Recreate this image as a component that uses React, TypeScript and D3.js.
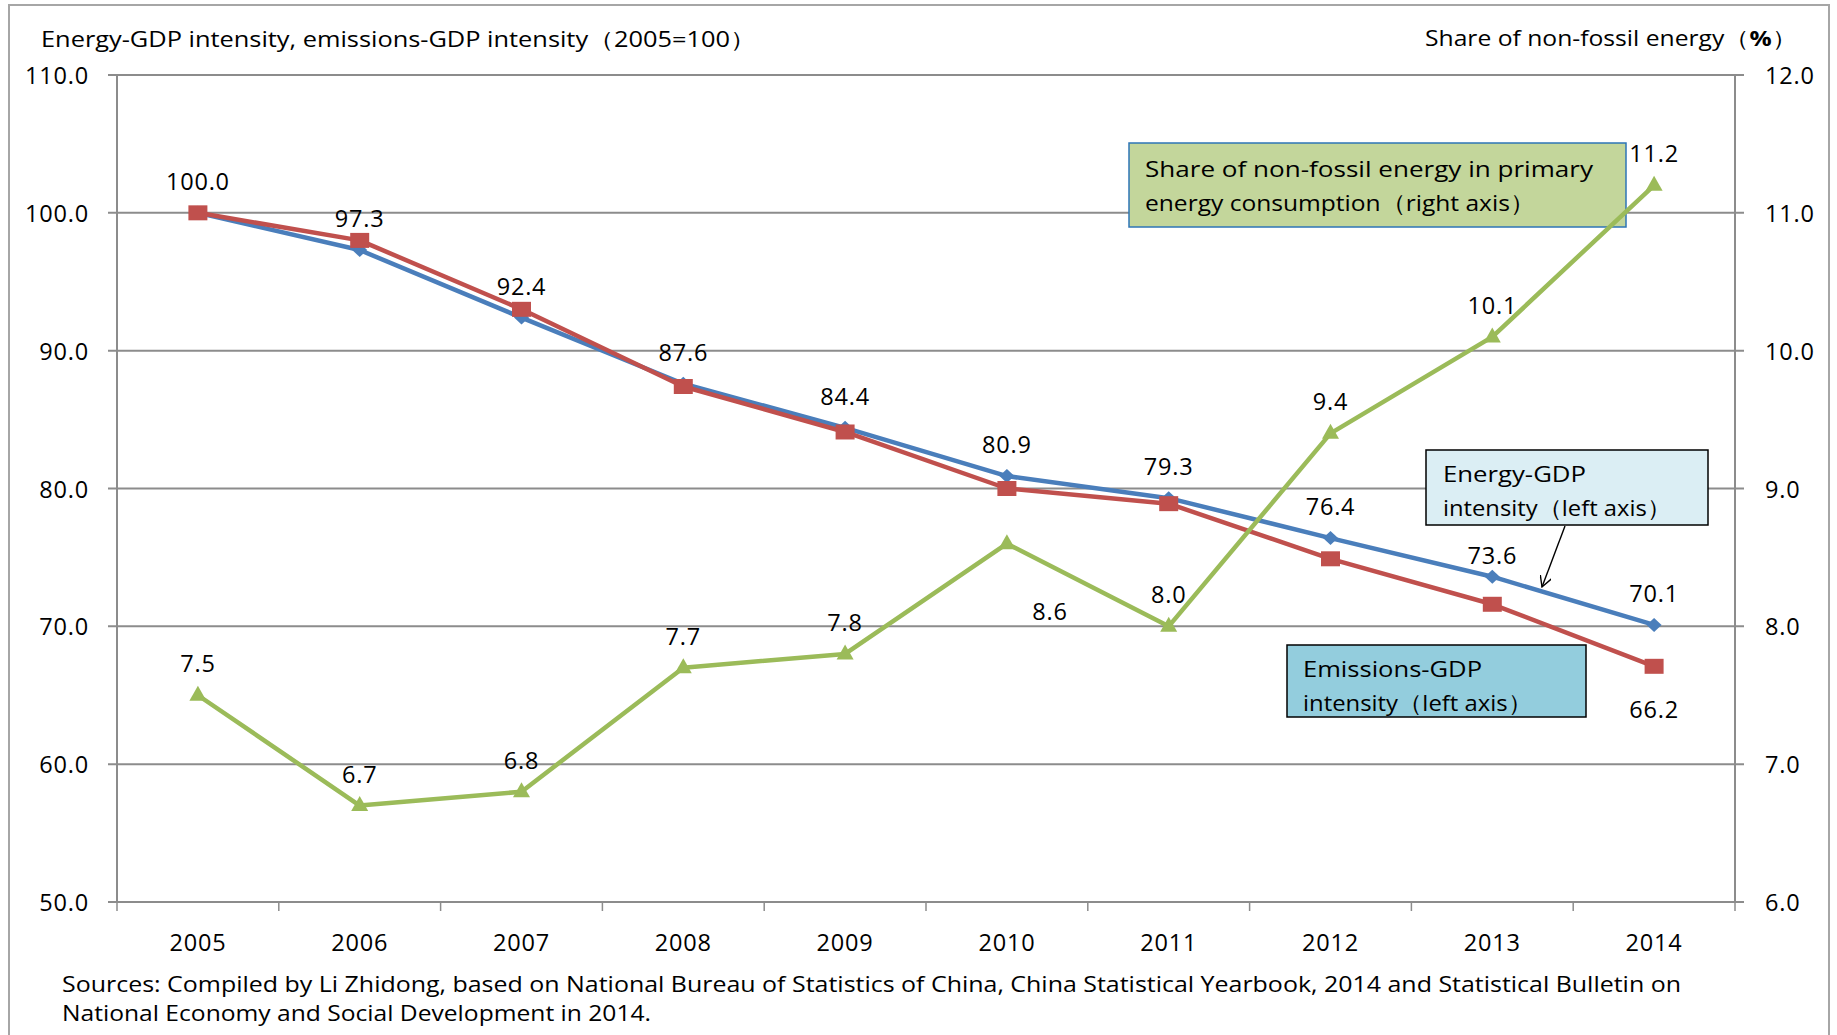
import React from "react";
import * as d3 from "d3";

const years = ["2005", "2006", "2007", "2008", "2009", "2010", "2011", "2012", "2013", "2014"];
const energyGdp = [100.0, 97.3, 92.4, 87.6, 84.4, 80.9, 79.3, 76.4, 73.6, 70.1];
const emissionsGdp = [100.0, 98.0, 93.0, 87.4, 84.1, 80.0, 78.9, 74.9, 71.6, 67.1];
const emissionsLabels = ["", "", "", "", "", "", "", "", "", "66.2"];
const nonFossilShare = [7.5, 6.7, 6.8, 7.7, 7.8, 8.6, 8.0, 9.4, 10.1, 11.2];
const leftTicks = [50, 60, 70, 80, 90, 100, 110];
const rightTicks = [6, 7, 8, 9, 10, 11, 12];

const FONT = "'Open Sans', 'Noto Sans', sans-serif";
const BLUE = "#4a7ebb";
const RED = "#c0504d";
const GREEN = "#9bbb59";
const GRID = "#8c8c8c";

export default function App() {
  const left = 117, right = 1735, top = 75, bottom = 902;
  const x = d3.scaleBand<string>().domain(years).range([left, right]);
  const cx = (y: string) => (x(y) as number) + x.bandwidth() / 2;
  const yL = d3.scaleLinear().domain([50, 110]).range([bottom, top]);
  const yR = d3.scaleLinear().domain([6, 12]).range([bottom, top]);
  const f1 = d3.format(".1f");

  const lineL = d3.line<number>().x((_, i) => cx(years[i])).y((d) => yL(d));
  const lineR = d3.line<number>().x((_, i) => cx(years[i])).y((d) => yR(d));

  const diamond = "M0,-7 L7.5,0 L0,7 L-7.5,0 Z";
  const square = "M-9.5,-7.5 H9.5 V7.5 H-9.5 Z";
  const triangle = "M0,-9.5 L8.5,5.5 L-8.5,5.5 Z";

  const numStyle = { fontFamily: FONT, fontSize: 23.5, fill: "#000", letterSpacing: 0.8 } as const;

  return (
    <svg width={1837} height={1035} style={{ position: "absolute", left: 0, top: 0, background: "#fff" }}>
      <defs>
        <marker id="arr" viewBox="0 0 12 12" refX="11" refY="6" markerWidth="12" markerHeight="12" orient="auto" markerUnits="userSpaceOnUse">
          <path d="M0,0 L11,6 L0,12" fill="none" stroke="#000" strokeWidth={1.4} />
        </marker>
      </defs>
      <rect x={9} y={5} width={1820} height={1060} fill="#fff" stroke="#a6a6a6" strokeWidth={2} />

      {/* gridlines */}
      {leftTicks.map((t) => (
        <line key={"g" + t} x1={left - 9} x2={right + 9} y1={yL(t)} y2={yL(t)} stroke={GRID} strokeWidth={2} />
      ))}
      <line x1={left} x2={left} y1={top} y2={bottom} stroke={GRID} strokeWidth={2} />
      <line x1={right} x2={right} y1={top} y2={bottom} stroke={GRID} strokeWidth={2} />
      {years.map((yr) => (
        <line key={"xt" + yr} x1={(x(yr) as number)} x2={(x(yr) as number)} y1={bottom} y2={bottom + 9} stroke={GRID} strokeWidth={1.5} />
      ))}
      <line x1={right} x2={right} y1={bottom} y2={bottom + 9} stroke={GRID} strokeWidth={1.5} />

      {/* tick labels */}
      {leftTicks.map((t) => (
        <text key={"lt" + t} x={89} y={yL(t)} textAnchor="end" dominantBaseline="central" style={numStyle}>{f1(t)}</text>
      ))}
      {rightTicks.map((t) => (
        <text key={"rt" + t} x={1765} y={yR(t)} textAnchor="start" dominantBaseline="central" style={numStyle}>{f1(t)}</text>
      ))}
      {years.map((yr) => (
        <text key={"yl" + yr} x={cx(yr)} y={942} textAnchor="middle" dominantBaseline="central" style={numStyle}>{yr}</text>
      ))}

      {/* titles */}
      <text x={41} y={38} dominantBaseline="central" textLength={715} lengthAdjust="spacingAndGlyphs" style={{ fontFamily: FONT, fontSize: 21.5 }}>
        Energy-GDP intensity, emissions-GDP intensity（2005=100）
      </text>
      <text x={1425} y={37} dominantBaseline="central" textLength={372} lengthAdjust="spacingAndGlyphs" style={{ fontFamily: FONT, fontSize: 21.5 }}>
        Share of non-fossil energy（<tspan fontWeight="bold">%</tspan>）
      </text>

      {/* annotation boxes */}
      <rect x={1129} y={143} width={497} height={84} fill="#c3d69b" stroke="#2e75b6" strokeWidth={1.5} />
      <text x={1145} y={168} dominantBaseline="central" textLength={448} lengthAdjust="spacingAndGlyphs" style={{ fontFamily: FONT, fontSize: 22.5 }}>
        Share of non-fossil energy in primary
      </text>
      <text x={1145} y={202} dominantBaseline="central" textLength={390} lengthAdjust="spacingAndGlyphs" style={{ fontFamily: FONT, fontSize: 22.5 }}>
        energy consumption（right axis）
      </text>

      <rect x={1426} y={450} width={282} height={75} fill="#dbeef4" stroke="#000" strokeWidth={1.5} />
      <text x={1443} y={473} dominantBaseline="central" textLength={143} lengthAdjust="spacingAndGlyphs" style={{ fontFamily: FONT, fontSize: 22.5 }}>
        Energy-GDP
      </text>
      <text x={1443} y={507} dominantBaseline="central" textLength={228} lengthAdjust="spacingAndGlyphs" style={{ fontFamily: FONT, fontSize: 22.5 }}>
        intensity（left axis）
      </text>

      <rect x={1287} y={645} width={299} height={72} fill="#93cddd" stroke="#000" strokeWidth={1.5} />
      <text x={1303} y={668} dominantBaseline="central" textLength={179} lengthAdjust="spacingAndGlyphs" style={{ fontFamily: FONT, fontSize: 22.5 }}>
        Emissions-GDP
      </text>
      <text x={1303} y={702} dominantBaseline="central" textLength={229} lengthAdjust="spacingAndGlyphs" style={{ fontFamily: FONT, fontSize: 22.5 }}>
        intensity（left axis）
      </text>

      {/* series */}
      <path d={lineL(energyGdp) as string} fill="none" stroke={BLUE} strokeWidth={4.5} strokeLinejoin="round" />
      {energyGdp.map((v, i) => (
        <path key={"bd" + i} d={diamond} transform={`translate(${cx(years[i])},${yL(v)})`} fill={BLUE} />
      ))}
      <path d={lineL(emissionsGdp) as string} fill="none" stroke={RED} strokeWidth={4.5} strokeLinejoin="round" />
      {emissionsGdp.map((v, i) => (
        <path key={"rs" + i} d={square} transform={`translate(${cx(years[i])},${yL(v)})`} fill={RED} />
      ))}
      <path d={lineR(nonFossilShare) as string} fill="none" stroke={GREEN} strokeWidth={4.5} strokeLinejoin="round" />
      {nonFossilShare.map((v, i) => (
        <path key={"gt" + i} d={triangle} transform={`translate(${cx(years[i])},${yR(v)})`} fill={GREEN} />
      ))}

      {/* data labels */}
      {energyGdp.map((v, i) => (
        <text key={"bl" + i} x={cx(years[i])} y={yL(v) - (years[i] === "2013" ? 22 : 32)} textAnchor="middle" dominantBaseline="central" style={numStyle}>{f1(v)}</text>
      ))}
      {emissionsLabels.map((s, i) => s ? (
        <text key={"rl" + i} x={cx(years[i])} y={yL(emissionsGdp[i]) + 43} textAnchor="middle" dominantBaseline="central" style={numStyle}>{s}</text>
      ) : null)}
      {nonFossilShare.map((v, i) => {
        const special = years[i] === "2010";
        return (
          <text key={"gl" + i} x={cx(years[i]) + (special ? 43 : 0)} y={yR(v) + (special ? 67 : -32)} textAnchor="middle" dominantBaseline="central" style={numStyle}>{f1(v)}</text>
        );
      })}

      {/* arrow */}
      <line x1={1565} y1={526} x2={1542} y2={587} stroke="#000" strokeWidth={1.4} markerEnd="url(#arr)" />

      {/* source */}
      <text x={62} y={983} dominantBaseline="central" textLength={1619} lengthAdjust="spacingAndGlyphs" style={{ fontFamily: FONT, fontSize: 21.5 }}>
        Sources: Compiled by Li Zhidong, based on National Bureau of Statistics of China, China Statistical Yearbook, 2014 and Statistical Bulletin on
      </text>
      <text x={62} y={1012} dominantBaseline="central" textLength={589} lengthAdjust="spacingAndGlyphs" style={{ fontFamily: FONT, fontSize: 21.5 }}>
        National Economy and Social Development in 2014.
      </text>
    </svg>
  );
}
